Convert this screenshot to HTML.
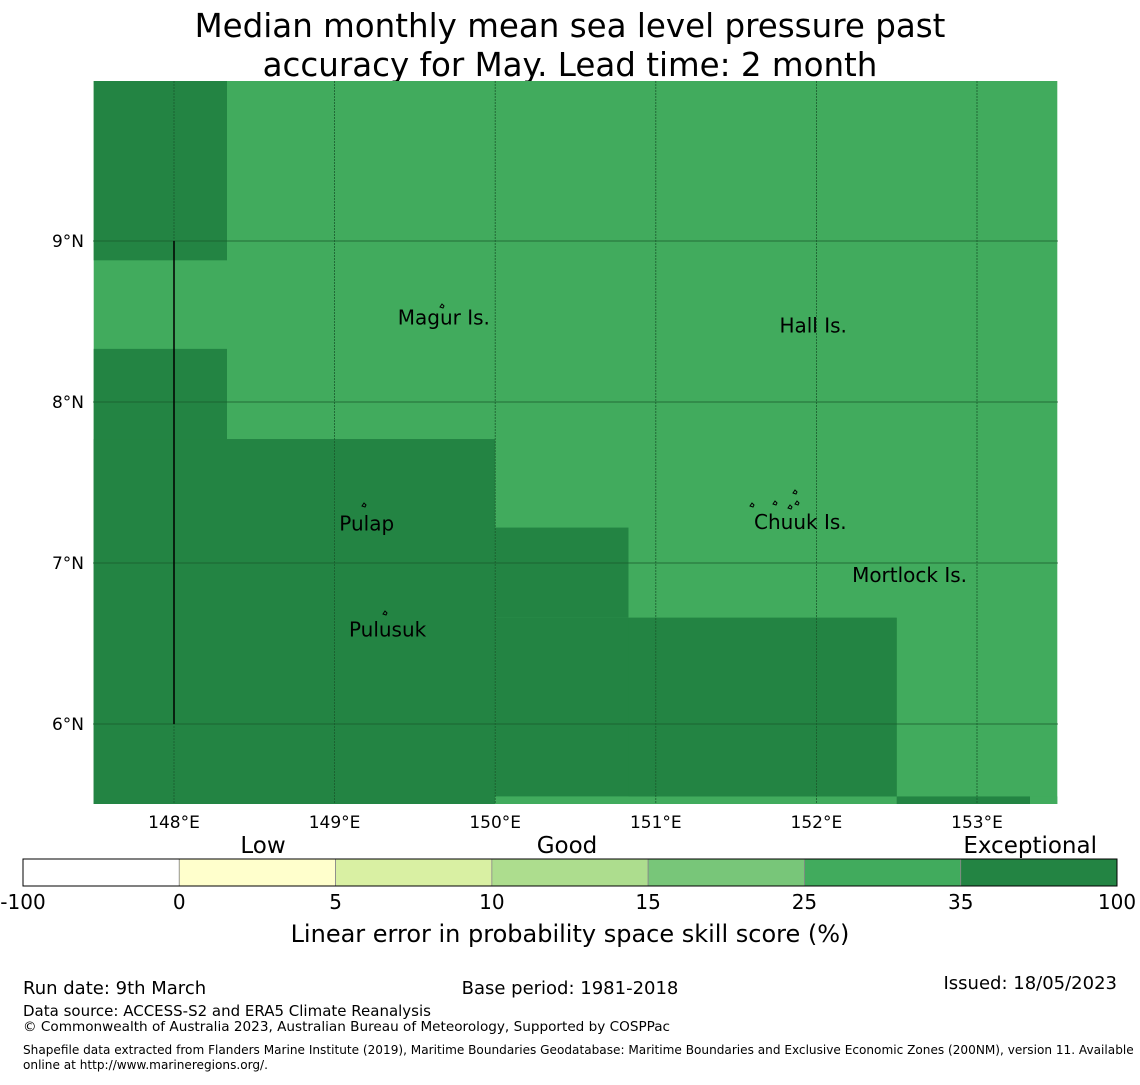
<!DOCTYPE html>
<html><head><meta charset="utf-8"><style>
body{margin:0;background:#fff;font-family:"Liberation Sans","DejaVu Sans",sans-serif;}
svg text{font-family:"DejaVu Sans","Liberation Sans",sans-serif;}
</style></head><body>
<svg id="c" width="1140" height="1080" xmlns="http://www.w3.org/2000/svg">
<text x="570" y="37" font-size="32.5" text-anchor="middle">Median monthly mean sea level pressure past</text>
<text x="570" y="76" font-size="32.5" text-anchor="middle">accuracy for May. Lead time: 2 month</text>
<g id="map"></g>
<g id="cb"></g>
<text x="23" y="994" font-size="18">Run date: 9th March</text>
<text x="570" y="994" font-size="18" text-anchor="middle">Base period: 1981-2018</text>
<text x="1117" y="989" font-size="18" text-anchor="end">Issued: 18/05/2023</text>
<text x="23" y="1016" font-size="15">Data source: ACCESS-S2 and ERA5 Climate Reanalysis</text>
<text x="23" y="1031" font-size="13.6">© Commonwealth of Australia 2023, Australian Bureau of Meteorology, Supported by COSPPac</text>
<text x="23" y="1054" font-size="12.1">Shapefile data extracted from Flanders Marine Institute (2019), Maritime Boundaries Geodatabase: Maritime Boundaries and Exclusive Economic Zones (200NM), version 11. Available</text>
<text x="23" y="1069" font-size="12.1">online at http://www.marineregions.org/.</text>
</svg>
<script>
const NS="http://www.w3.org/2000/svg";
const lonTicks=[148,149,150,151,152,153];
const latTicks=[9,8,7,6];
// cells: [lon0, lon1, lat0, lat1, category]
const cellLon0=[147.5,147.5,147.5,147.5,147.5,150,150,150,150.83,152.5,153.33];
const cellLon1=[153.5,148.33,148.33,148.33,150,150.83,152.5,152.5,152.5,153.33,153.5];
const cellLat0=[5.5,8.88,7.77,5.5,5.5,6.66,5.55,5.5,5.55,5.5,5.5];
const cellLat1=[10,10,8.33,7.77,7.77,7.22,6.66,5.55,6.66,5.55,5.55];
const cellCat=[5,6,6,6,6,6,6,5,6,6,5];
const binLabels=["-100","0","5","10","15","25","35","100"];
const binColors=["#ffffff","#ffffcc","#d9f0a3","#addd8e","#78c679","#41ab5d","#238443"];
const places=["Magur Is.","Hall Is.","Pulap","Chuuk Is.","Mortlock Is.","Pulusuk"];
const placeLon=[149.68,151.98,149.2,151.9,152.58,149.33];
const placeLat=[8.52,8.47,7.24,7.25,6.92,6.58];
const X=l=>174+(l-148)*160.6, Y=a=>241+(9-a)*161;
const m=document.getElementById('map');
function el(t,a,p){const e=document.createElementNS(NS,t);for(const k in a)e.setAttribute(k,a[k]);(p||m).appendChild(e);return e;}
const clip=el('clipPath',{id:'mc'});el('rect',{x:93,y:81,width:965,height:723},clip);
const g=el('g',{'clip-path':'url(#mc)'});
for(let i=0;i<cellCat.length;i++){
 const r=el('rect',{x:X(cellLon0[i]),y:Y(cellLat1[i]),width:X(cellLon1[i])-X(cellLon0[i]),height:Y(cellLat0[i])-Y(cellLat1[i]),fill:binColors[cellCat[i]]},g);
 
 
}
lonTicks.forEach(l=>{const ln=el('line',{x1:X(l),x2:X(l),y1:81,y2:804,stroke:'#1a5a2c','stroke-width':0.8,'stroke-dasharray':'2,1'});
 
 const t=el('text',{x:X(l),y:828,'font-size':17,'text-anchor':'middle'});t.textContent=l+'°E';
 });
latTicks.forEach(a=>{const ln=el('line',{x1:93,x2:1058,y1:Y(a),y2:Y(a),stroke:'#1a5a2c','stroke-width':0.8});
 
 const t=el('text',{x:84,y:Y(a)+6,'font-size':17,'text-anchor':'end'});t.textContent=a+'°N';
 });
const vl=el('line',{x1:174,x2:174,y1:241,y2:724,stroke:'#000','stroke-width':1.5});

const isl=[[442,306],[364,505],[385,613],[795,492],[775,503],[790,507],[752,505],[797,503]];
isl.forEach(p=>{const e=el('path',{d:`M${p[0]-2},${p[1]+1} l2,-3 l2,2 l-1,2 z`,fill:'none',stroke:'#000','stroke-width':1});
 });
places.forEach((n,i)=>{const t=el('text',{x:X(placeLon[i]),y:Y(placeLat[i])+6,'font-size':20,'text-anchor':'middle'});t.textContent=n;
 });
const cb=document.getElementById('cb');const w=1094/binColors.length;
binColors.forEach((c,i)=>{const r=el('rect',{x:23+i*w,y:859,width:w,height:27,fill:c,stroke:'#888','stroke-width':0.8},cb);
 });
el('rect',{x:23,y:859,width:1094,height:27,fill:'none',stroke:'#000','stroke-width':1},cb);
binLabels.forEach((s,i)=>{const t=el('text',{x:23+i*w,y:909,'font-size':20,'text-anchor':'middle'},cb);t.textContent=s;
 });
[["Low",263,'middle'],["Good",567,'middle'],["Exceptional",1097,'end']].forEach(a=>{const t=el('text',{x:a[1],y:853,'font-size':23,'text-anchor':a[2]},cb);t.textContent=a[0];
 });
const ct=el('text',{x:570,y:942,'font-size':24,'text-anchor':'middle'},cb);ct.textContent='Linear error in probability space skill score (%)';

</script>
</body></html>
